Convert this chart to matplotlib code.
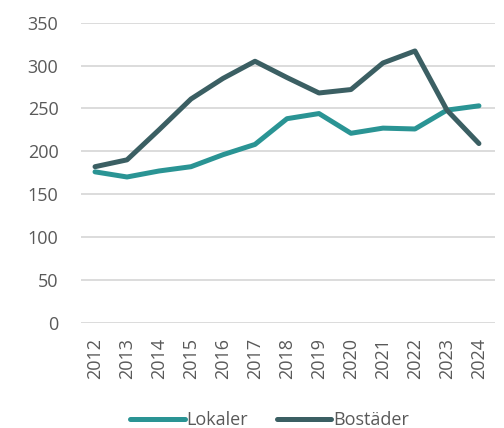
import matplotlib.pyplot as plt

plt.rcParams['font.family'] = ['Open Sans', 'DejaVu Sans']

# Data
years = [2012, 2013, 2014, 2015, 2016, 2017, 2018, 2019, 2020, 2021, 2022, 2023, 2024]
lokaler = [176, 170, 177, 182, 196, 208, 238, 244, 221, 227, 226, 248, 253]
bostader = [182, 190, 225, 261, 285, 305, 286, 268, 272, 303, 317, 248, 209]

teal = '#2A9494'
dark = '#3B5F63'
text_col = '#595959'

fig = plt.figure(figsize=(5.04, 4.28), dpi=100)
ax = fig.add_axes([0.16, 0.246, 0.822, 0.701])

ax.plot(years, lokaler, color=teal, lw=3.6, solid_capstyle='round', label='Lokaler')
ax.plot(years, bostader, color=dark, lw=3.6, solid_capstyle='round', label='Bostäder')

ax.set_ylim(0, 350)
ax.set_yticks(range(0, 351, 50))
ax.set_xlim(2011.55, 2024.5)
ax.set_xticks(years)
ax.set_xticklabels([str(y) for y in years], rotation=90)

ax.grid(axis='y', color='#D9D9D9', lw=1.3)
ax.set_axisbelow(True)
for s in ax.spines.values():
    s.set_visible(False)
ax.tick_params(length=0, labelsize=13, colors=text_col)
ax.tick_params(axis='x', pad=11)
ax.tick_params(axis='y', pad=16)

leg = fig.legend(loc='center', bbox_to_anchor=(0.535, 0.018), ncol=2, frameon=False,
                 fontsize=13, handlelength=3.0, handletextpad=0.1, columnspacing=1.6)
for t in leg.get_texts():
    t.set_color(text_col)

fig.savefig('out.png', dpi=100)
